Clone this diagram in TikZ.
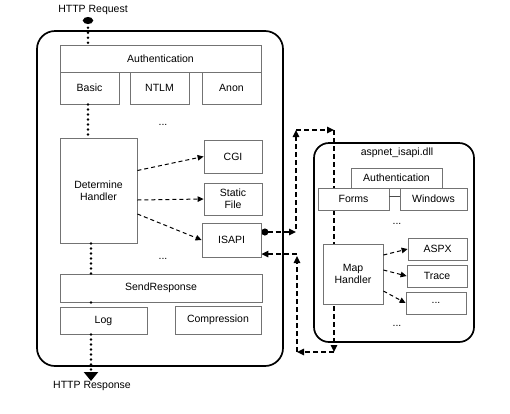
\documentclass[tikz,border=0pt]{standalone}
\usepackage{fontspec}
\setmainfont{Liberation Sans}
\usetikzlibrary{arrows.meta,backgrounds}

\begin{document}
\begin{tikzpicture}[x=1pt, y=-1pt, font=\fontsize{10.5}{12}\selectfont,
  box/.style = {draw=black!55, line width=0.8pt, fill=white, inner sep=1pt, align=center},
  container/.style = {draw, line width=1.7pt, rounded corners=18pt},
  dots/.style = {line width=2.7pt, line cap=round, dash pattern=on 0pt off 5pt},
  call/.style = {line width=1pt, dash pattern=on 4pt off 3pt, -{Triangle[length=6pt,width=5.5pt]}},
  roundtrip/.style = {line width=1.4pt, dash pattern=on 5pt off 3pt, -{Triangle[length=7pt,width=6.5pt]}}]
  \useasboundingbox (0,0) rectangle (510,413);

  % web server
  \node[container, minimum width=246, minimum height=335] (iis) at (160,198.5) {};
  \node (request) at (93,10) {HTTP Request};
  \coordinate (req) at (88,17);
  \node[box, minimum width=201, minimum height=27] (auth) at (160.5,58.5) {Authentication};
  \node[box, minimum width=59, minimum height=32] (basic) at (89.5,88) {Basic};
  \node[box, minimum width=59, minimum height=32] (ntlm) at (159.5,88) {NTLM};
  \node[box, minimum width=59, minimum height=32] (anon) at (231.5,88) {Anon};
  \node (more1) at (163,125) {...};
  \node[box, minimum width=77, minimum height=105] (determine) at (98.5,190.5) {Determine\\Handler};
  \node[box, minimum width=58, minimum height=33] (cgi) at (233,156.5) {CGI};
  \node[box, minimum width=58, minimum height=32] (static) at (233,199) {Static\\File};
  \node[box, minimum width=59, minimum height=34] (isapi) at (231.5,240) {ISAPI};
  \node (more2) at (163,259) {...};
  \node[box, minimum width=202, minimum height=28] (send) at (161,288) {SendResponse};
  \node[box, minimum width=87, minimum height=27] (log) at (103.5,320.5) {Log};
  \node[box, minimum width=86, minimum height=28] (compression) at (218,320) {Compression};
  \coordinate (resp) at (91,381);
  \node (response) at (92,386) {HTTP Response};

  % aspnet_isapi.dll
  \node[container, rounded corners=15pt, minimum width=160, minimum height=199] (dll) at (394,242.5) {};
  \node (dllname) at (397,153) {aspnet\_isapi.dll};
  \node[box, minimum width=91, minimum height=20] (auth2) at (396.5,178) {Authentication};
  \node[box, minimum width=71, minimum height=22] (forms) at (353.5,199) {Forms};
  \node[box, minimum width=67, minimum height=22] (windows) at (433.5,199) {Windows};
  \node (more3) at (397,224) {...};
  \node[box, minimum width=60, minimum height=60] (map) at (353,274) {Map\\Handler};
  \node[box, minimum width=59, minimum height=22] (aspx) at (437.5,249) {ASPX};
  \node[box, minimum width=60, minimum height=22] (trace) at (437,276) {Trace};
  \node[box, minimum width=60, minimum height=22] (others) at (436,303) {...};
  \node (more4) at (397,326) {...};

  % pipeline
  \draw[dots, {Ellipse[length=7pt,width=10pt]}-] (req) -- (req |- auth.north);
  \draw[dots] (req |- basic.south) -- (req |- determine.north);
  \draw[dots] (resp |- determine.south) -- (resp |- send.north);
  \draw[dots] (resp |- send.south) -- (resp |- log.north);
  \draw[dots, -{Triangle[length=9pt,width=14pt]}] (resp |- log.south) -- (resp);

  \draw[call] ([yshift=20pt]determine.east) -- (cgi.west);
  \draw[call] ([yshift=-9.5pt]determine.east) -- (static.west);
  \draw[call] ([yshift=-23.5pt]determine.east) -- (isapi.west);

  \draw[black!70] ([yshift=3pt]forms.east) -- ([yshift=3pt]windows.west);
  \draw[call] ([yshift=19pt]map.east) -- (aspx.west);
  \draw[call] ([yshift=4pt]map.east) -- (trace.west);
  \draw[call] ([yshift=-17pt]map.east) -- (others.west);

  % call into the dll and back
  \begin{scope}[on background layer]
    \coordinate (tl) at (296,130);
    \coordinate (tr) at (334,130);
    \coordinate (br) at (334,352);
    \coordinate (bl) at (297,352);
    \draw[roundtrip, {Circle[length=7pt]}-{Triangle[length=7pt,width=6.5pt]}] ([yshift=8pt]isapi.east) -- ([yshift=8pt]isapi.east -| tl);
    \draw[roundtrip] ([yshift=11pt]isapi.east -| tl) -- (tl);
    \draw[roundtrip] (tl) -- (tr);
    \draw[roundtrip] (tr) -- (br);
    \draw[roundtrip] (br) -- (bl);
    \draw[roundtrip] (bl) -- ([yshift=-16pt]isapi.east -| bl);
    \draw[roundtrip] ([yshift=-14pt]isapi.east -| bl) -- ([yshift=-14pt]isapi.east);
  \end{scope}
\end{tikzpicture}
\end{document}
